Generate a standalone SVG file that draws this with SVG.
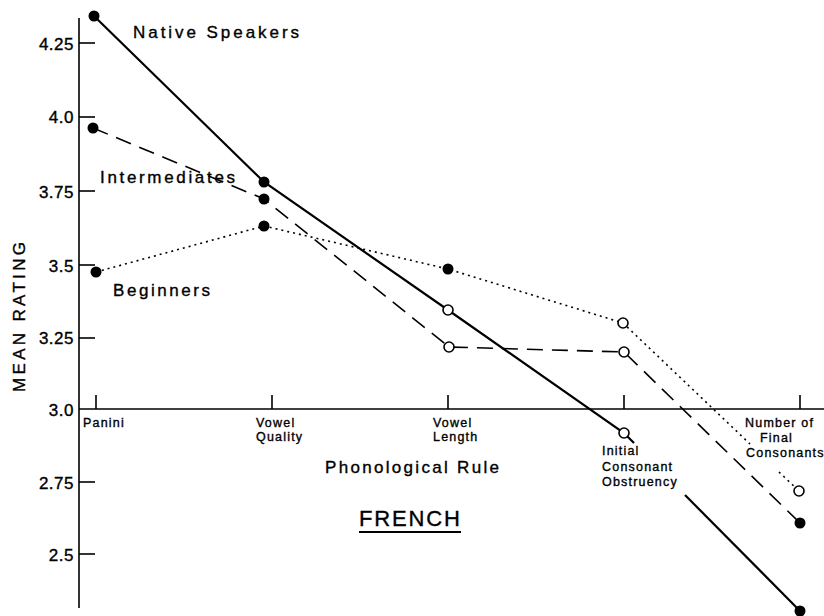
<svg xmlns="http://www.w3.org/2000/svg" width="824" height="616" viewBox="0 0 824 616">
<style>
text{font-family:"Liberation Sans","DejaVu Sans",sans-serif;fill:#000;stroke:#000;stroke-width:0.35}
.tick{font-size:17px;text-anchor:end;letter-spacing:0.5px}
.cat{font-size:12.5px;letter-spacing:1.2px}
.lbl{font-size:17px}
.axis{stroke:#000;stroke-width:1.6;fill:none}
.native{stroke:#000;stroke-width:2.2;fill:none}
.inter{stroke:#000;stroke-width:1.6;fill:none;stroke-dasharray:16 9}
.beg{stroke:#000;stroke-width:1.6;fill:none;stroke-dasharray:2 4}
.fill{fill:#000}
.open{fill:#fff;stroke:#000;stroke-width:1.6}
</style>
<rect width="824" height="616" fill="#fff"/>
<g id="axes">
<line class="axis" x1="79" y1="18" x2="79" y2="608"/>
<line class="axis" x1="79" y1="409" x2="824" y2="409"/>
<g class="axis">
<line x1="79" y1="43" x2="95" y2="43"/>
<line x1="79" y1="117" x2="95" y2="117"/>
<line x1="79" y1="191" x2="95" y2="191"/>
<line x1="79" y1="265" x2="95" y2="265"/>
<line x1="79" y1="338" x2="95" y2="338"/>
<line x1="79" y1="482" x2="95" y2="482"/>
<line x1="79" y1="554" x2="95" y2="554"/>
<line x1="96" y1="395" x2="96" y2="409"/>
<line x1="272" y1="395" x2="272" y2="409"/>
<line x1="448" y1="395" x2="448" y2="409"/>
<line x1="624" y1="395" x2="624" y2="409"/>
<line x1="800" y1="395" x2="800" y2="409"/>
</g>
<text class="tick" x="74" y="50">4.25</text>
<text class="tick" x="74" y="123">4.0</text>
<text class="tick" x="74" y="198">3.75</text>
<text class="tick" x="74" y="272">3.5</text>
<text class="tick" x="74" y="344">3.25</text>
<text class="tick" x="74" y="416">3.0</text>
<text class="tick" x="74" y="489">2.75</text>
<text class="tick" x="74" y="561">2.5</text>
<text class="lbl" transform="translate(25,392) rotate(-90)" textLength="150" lengthAdjust="spacing">MEAN RATING</text>
</g>
<g id="categories">
<text class="cat" x="83" y="427">Panini</text>
<text class="cat" x="256" y="427">Vowel</text>
<text class="cat" x="256" y="441">Quality</text>
<text class="cat" x="433" y="427">Vowel</text>
<text class="cat" x="433" y="441">Length</text>
<text class="cat" x="602" y="455">Initial</text>
<text class="cat" x="602" y="471">Consonant</text>
<text class="cat" x="602" y="486">Obstruency</text>
<text class="cat" x="745" y="427">Number of</text>
<text class="cat" x="760" y="442">Final</text>
<text class="cat" x="746" y="457">Consonants</text>
<text class="lbl" x="325" y="473" textLength="174" lengthAdjust="spacing">Phonological Rule</text>
<text x="359" y="526" style="font-size:22px" textLength="101" lengthAdjust="spacing">FRENCH</text>
<line x1="359" y1="532" x2="461" y2="532" stroke="#000" stroke-width="2"/>
</g>
<g id="connectors">
<polyline class="native" points="94,16 264,182 448,310 624,433 634,443"/>
<line class="native" x1="685" y1="495" x2="800" y2="611"/>
<polyline class="inter" points="93,128 264,199 449,347 624,352 800,523"/>
<polyline class="beg" points="96,272 264,226 448,269 623,323 750,444"/>
<line class="beg" x1="779" y1="472" x2="799" y2="491"/>
</g>
<g id="native-speakers">
<text class="lbl" x="133" y="38" textLength="166" lengthAdjust="spacing">Native  Speakers</text>
<circle class="fill" cx="94" cy="16" r="5.5"/>
<circle class="fill" cx="264" cy="182" r="5.5"/>
<circle class="open" cx="448" cy="310" r="5"/>
<circle class="open" cx="624" cy="433" r="5"/>
<circle class="fill" cx="800" cy="611" r="5.5"/>
</g>
<g id="intermediates">
<text class="lbl" x="100" y="183" textLength="135" lengthAdjust="spacing">Intermediates</text>
<circle class="fill" cx="93" cy="128" r="5.5"/>
<circle class="fill" cx="264" cy="199" r="5.5"/>
<circle class="open" cx="449" cy="347" r="5"/>
<circle class="open" cx="624" cy="352" r="5"/>
<circle class="fill" cx="800" cy="523" r="5.5"/>
</g>
<g id="beginners">
<text class="lbl" x="113" y="296" textLength="97" lengthAdjust="spacing">Beginners</text>
<circle class="fill" cx="96" cy="272" r="5.5"/>
<circle class="fill" cx="264" cy="226" r="5.5"/>
<circle class="fill" cx="448" cy="269" r="5.5"/>
<circle class="open" cx="623" cy="323" r="5"/>
<circle class="open" cx="799" cy="491" r="5"/>
</g>
</svg>
